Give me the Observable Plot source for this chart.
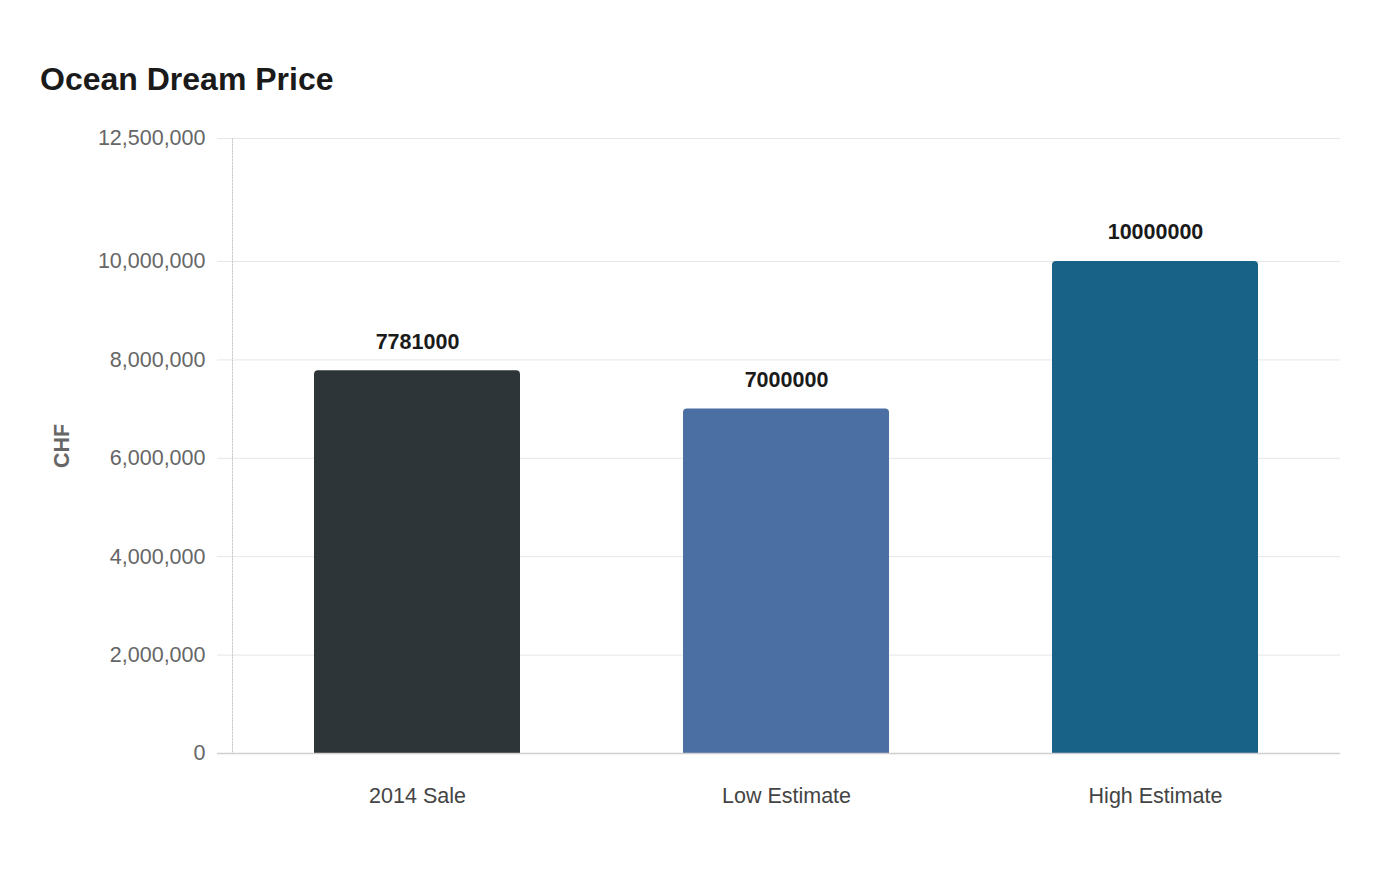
<!DOCTYPE html>
<html>
<head>
<meta charset="utf-8">
<script src="https://cdn.jsdelivr.net/npm/d3@7"></script>
<script src="https://cdn.jsdelivr.net/npm/@observablehq/plot@0.6"></script>
<style>
  html, body { margin: 0; padding: 0; background: #fff; }
  body { width: 1400px; height: 880px; overflow: hidden; font-family: "Liberation Sans", Arial, sans-serif; }
  #title { position: absolute; left: 40px; top: 63px; font-size: 32px; font-weight: bold; color: #1a1a1a; line-height: 1; }
  #chart { position: absolute; left: 0; top: 110px; }
</style>
</head>
<body>
<div id="title">Ocean Dream Price</div>
<div id="chart"></div>
<script>
const categories = ["2014 Sale", "Low Estimate", "High Estimate"];
const values = [7781000, 7000000, 10000000];
const colors = ["#2e3538", "#4b6ea3", "#186187"];
const yTicks = [0, 2000000, 4000000, 6000000, 8000000, 10000000, 12500000];
const yLabel = "CHF";

const data = categories.map((c, i) => ({category: c, value: values[i], color: colors[i]}));
const fmt = d3.format(",");

const chart = Plot.plot({
  width: 1400,
  height: 770,
  marginLeft: 232,
  marginRight: 60,
  marginTop: 28,
  marginBottom: 127,
  style: {fontFamily: "'Liberation Sans', Arial, sans-serif", fontSize: "21.5px", background: "#fff"},
  x: {domain: categories, paddingInner: 0.442, paddingOuter: 0.221, label: null},
  y: {domain: [0, 12500000], label: null},
  marks: [
    Plot.gridY(yTicks, {stroke: "#e6e6e6", strokeOpacity: 1}),
    Plot.axisY(yTicks, {tickSize: 15, tickPadding: 12, stroke: "#e6e6e6", strokeOpacity: 1, fill: "#666", fontSize: 21.5, tickFormat: fmt, label: null}),
    Plot.frame({anchor: "left", stroke: "#ccc", strokeDasharray: "1.5,1.5"}),
    Plot.barY(data, {x: "category", y: "value", fill: "color", rx: 4}),
    Plot.barY(data, {x: "category", y1: 0, y2: d => d.value / 2, fill: "color"}),
    Plot.ruleY([0], {stroke: "#cfcfcf", strokeWidth: 1.5, insetLeft: -15}),
    Plot.axisX({tickSize: 0, tickPadding: 34, fill: "#444", fontSize: 21.5, label: null}),
    Plot.text(data, {x: "category", y: "value", text: d => String(d.value), dy: -29, fontWeight: "bold", fontSize: 21.5, fill: "#1a1a1a"}),
    Plot.text([yLabel], {frameAnchor: "left", textAnchor: "middle", text: d => d, rotate: -90, dx: -170, fontWeight: "bold", fontSize: 21.5, fill: "#666"})
  ]
});
document.getElementById("chart").appendChild(chart);
</script>
</body>
</html>
